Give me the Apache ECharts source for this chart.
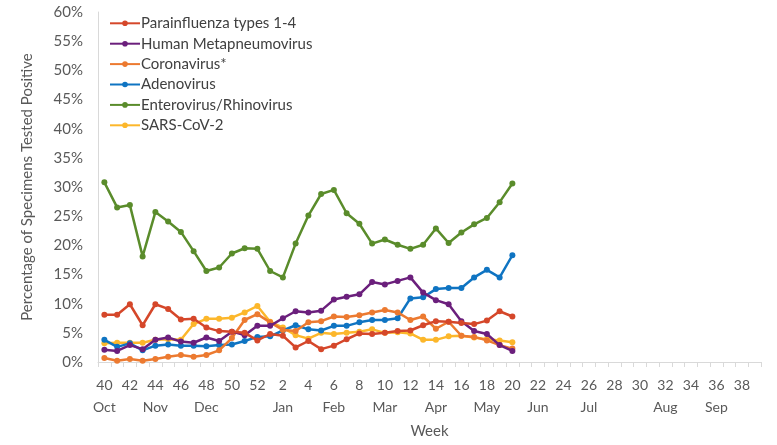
<!DOCTYPE html>
<html>
<head>
<meta charset="utf-8">
<script src="https://cdn.jsdelivr.net/npm/echarts@6/dist/echarts.min.js"></script>
<style>html,body{margin:0;padding:0;background:#fff}#c{width:777px;height:445px}</style>
</head>
<body>
<div id="c"></div>
<script>
var weeks = [40,41,42,43,44,45,46,47,48,49,50,51,52,1,2,3,4,5,6,7,8,9,10,11,12,13,14,15,16,17,18,19,20,21,22,23,24,25,26,27,28,29,30,31,32,33,34,35,36,37,38,39];
var monthWeeks = [40,44,48,2,6,10,14,18,22,26,32,36];
var monthNames = ['Oct','Nov','Dec','Jan','Feb','Mar','Apr','May','Jun','Jul','Aug','Sep'];
var yTicks = [0,5,10,15,20,25,30,35,40,45,50,55,60];

var parainfluenza = [8.1,8.1,9.9,6.3,9.9,9.1,7.3,7.4,5.9,5.3,5.2,5.0,3.7,4.8,4.5,2.5,3.6,2.2,2.8,3.9,4.9,4.8,5.0,5.3,5.4,6.3,7.0,6.9,6.7,6.5,7.1,8.7,7.8];
var hmpv = [2.1,1.9,2.9,2.2,3.8,4.2,3.5,3.3,4.2,3.6,5.2,4.6,6.2,6.2,7.5,8.7,8.5,8.8,10.7,11.2,11.6,13.7,13.3,13.9,14.5,11.9,10.6,9.9,7.0,5.3,4.8,2.9,1.9];
var coronavirus = [0.7,0.2,0.5,0.2,0.5,0.9,1.2,0.9,1.2,2.0,4.1,7.2,8.2,6.8,5.5,5.3,6.8,7.0,7.8,7.7,8.0,8.5,8.9,8.5,7.2,7.8,5.7,6.9,4.5,4.3,3.7,2.9,2.3];
var adenovirus = [3.8,2.6,3.2,2.0,2.8,3.0,2.8,2.8,2.7,2.9,3.0,3.6,4.3,4.4,5.4,6.3,5.6,5.4,6.2,6.2,6.8,7.2,7.2,7.5,10.9,11.1,12.5,12.7,12.7,14.5,15.8,14.5,18.3];
var enterovirus = [30.8,26.5,26.9,18.1,25.7,24.1,22.3,19.0,15.6,16.2,18.6,19.5,19.4,15.6,14.5,20.3,25.1,28.8,29.5,25.5,23.7,20.3,21.0,20.1,19.4,20.1,22.9,20.4,22.2,23.6,24.7,27.4,30.6];
var sarscov2 = [3.2,3.3,3.3,3.3,3.8,3.9,3.8,6.5,7.4,7.4,7.6,8.5,9.6,6.9,5.9,4.6,4.0,5.0,4.8,5.0,5.2,5.6,5.0,5.1,4.9,3.8,3.8,4.4,4.5,4.2,3.9,3.7,3.4];

var seriesNames = ['Parainfluenza types 1-4','Human Metapneumovirus','Coronavirus*','Adenovirus','Enterovirus/Rhinovirus','SARS-CoV-2'];
var seriesData = [parainfluenza, hmpv, coronavirus, adenovirus, enterovirus, sarscov2];
var colors = ['#d5472a','#6b1f7c','#ec7a30','#0f74c2','#5a8c2b','#fcb72b'];

var FONT = 'Lato';
var chart = echarts.init(document.getElementById('c'));
chart.setOption({
  animation: false,
  textStyle: {fontFamily: FONT},
  grid: {left: 98, right: 16, top: 12, bottom: 83, outerBoundsMode: 'none', containLabel: false},
  legend: {
    orient: 'vertical', left: 104, top: 9, itemGap: 1.8,
    itemWidth: 30, itemHeight: 7,
    textStyle: {fontFamily: FONT, fontSize: 15, color: '#404040', padding: [0,0,0,-4], lineHeight: 18.6},
    data: seriesNames
  },
  xAxis: {
    type: 'category', data: weeks, boundaryGap: true,
    name: 'Week', nameLocation: 'middle', nameGap: 62,
    nameTextStyle: {fontFamily: FONT, fontSize: 15, color: '#595959'},
    axisLine: {lineStyle: {color: '#d9d9d9', width: 1}},
    axisTick: {show: true, interval: 0, length: 5, lineStyle: {color: '#d9d9d9'}},
    axisLabel: {
      interval: 1, margin: 12, color: '#595959', fontSize: 14, fontFamily: FONT, lineHeight: 22,
      formatter: function (v) {
        var w = parseInt(v, 10);
        var i = monthWeeks.indexOf(w);
        return i >= 0 ? v + '\n' + monthNames[i] : v + '\n ';
      }
    }
  },
  yAxis: {
    type: 'value', min: 0, max: 60, interval: 5,
    name: 'Percentage of Specimens Tested Positive', nameLocation: 'middle', nameGap: 63,
    nameTextStyle: {fontFamily: FONT, fontSize: 15, color: '#595959'},
    axisLine: {show: true, lineStyle: {color: '#d9d9d9', width: 1}},
    axisTick: {show: false},
    splitLine: {show: false},
    axisLabel: {color: '#595959', fontSize: 15, fontFamily: FONT, margin: 15, formatter: '{value}%'}
  },
  series: seriesNames.map(function (n, i) {
    return {
      name: n, type: 'line', data: seriesData[i],
      symbol: 'circle', symbolSize: 6,
      lineStyle: {width: 2.5, color: colors[i]},
      itemStyle: {color: colors[i]},
      z: 10 - i
    };
  })
});
</script>
</body>
</html>
